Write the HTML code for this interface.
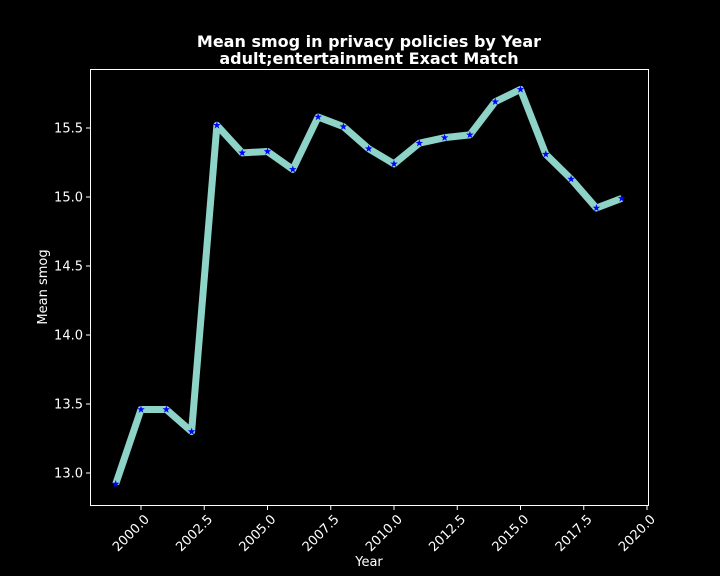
<!DOCTYPE html>
<html><head><meta charset="utf-8"><style>
html,body{margin:0;padding:0;background:#000;overflow:hidden;width:720px;height:576px}
svg{display:block}
svg text{font-family:"DejaVu Sans","Liberation Sans",sans-serif;fill:#fff}
</style></head><body>
<svg id="chart" width="720" height="576">
<rect width="720" height="576" fill="#000"/>
<text x="369" y="47" text-anchor="middle" font-size="16" font-weight="bold">Mean smog in privacy policies by Year</text>
<text x="369" y="64" text-anchor="middle" font-size="16" font-weight="bold">adult;entertainment Exact Match</text>
<rect x="90.5" y="69.5" width="558" height="436" fill="none" stroke="#fff" stroke-width="1"/>
<g id="xt"></g><g id="yt"></g><g id="series"></g>
<text x="369" y="566" text-anchor="middle" font-size="13">Year</text>
<text transform="translate(47,287) rotate(-90)" text-anchor="middle" font-size="13">Mean smog</text>
</svg>
<script>
const years=[1999,2000,2001,2002,2003,2004,2005,2006,2007,2008,2009,2010,2011,2012,2013,2014,2015,2016,2017,2018,2019];
const smog=[12.92,13.46,13.46,13.30,15.52,15.32,15.33,15.20,15.58,15.51,15.35,15.24,15.39,15.43,15.45,15.69,15.78,15.31,15.13,14.92,14.99];
const xTicks=[2000,2002.5,2005,2007.5,2010,2012.5,2015,2017.5,2020];
const yTicks=[13.0,13.5,14.0,14.5,15.0,15.5];
const NS="http://www.w3.org/2000/svg";
const X=v=>141+(v-2000)*25.3;
const Y=v=>473-(v-13)*138;
function mk(t,a,p){const e=document.createElementNS(NS,t);for(const k in a)e.setAttribute(k,a[k]);p.appendChild(e);return e;}
const xt=document.getElementById('xt'),yt=document.getElementById('yt'),s=document.getElementById('series');
xTicks.forEach(v=>{const x=X(v);
 const l=mk('line',{x1:x,x2:x,y1:505.5,y2:510,stroke:'#fff'},xt);
 
 
 const t=mk('text',{x:0,y:0,'font-size':13,'text-anchor':'end',transform:`translate(${x+9},${520}) rotate(-45)`},xt);
 t.textContent=v.toFixed(1);
 
 
});
yTicks.forEach(v=>{const y=Y(v);
 const l=mk('line',{x1:86,x2:90.5,y1:y,y2:y,stroke:'#fff'},yt);
 
 
 const t=mk('text',{x:83,y:y+4.5,'font-size':13,'text-anchor':'end'},yt);
 t.textContent=v.toFixed(1);
 
 
});
const pl=mk('polyline',{points:years.map((y,i)=>X(y)+','+Y(smog[i])).join(' '),fill:'none',stroke:'#8dd3c7','stroke-width':7,'stroke-linejoin':'round','stroke-linecap':'butt'},s);


years.forEach((y,i)=>{const cx=X(y),cy=Y(smog[i]);let pts=[];
 for(let k=0;k<10;k++){const r=k%2?1.6:4,a=-Math.PI/2+k*Math.PI/5;pts.push((cx+r*Math.cos(a)).toFixed(2)+','+(cy+r*Math.sin(a)).toFixed(2));}
 const m=mk('polygon',{points:pts.join(' '),fill:'#0000ff'},s);
 
 
});
</script>
</body></html>
